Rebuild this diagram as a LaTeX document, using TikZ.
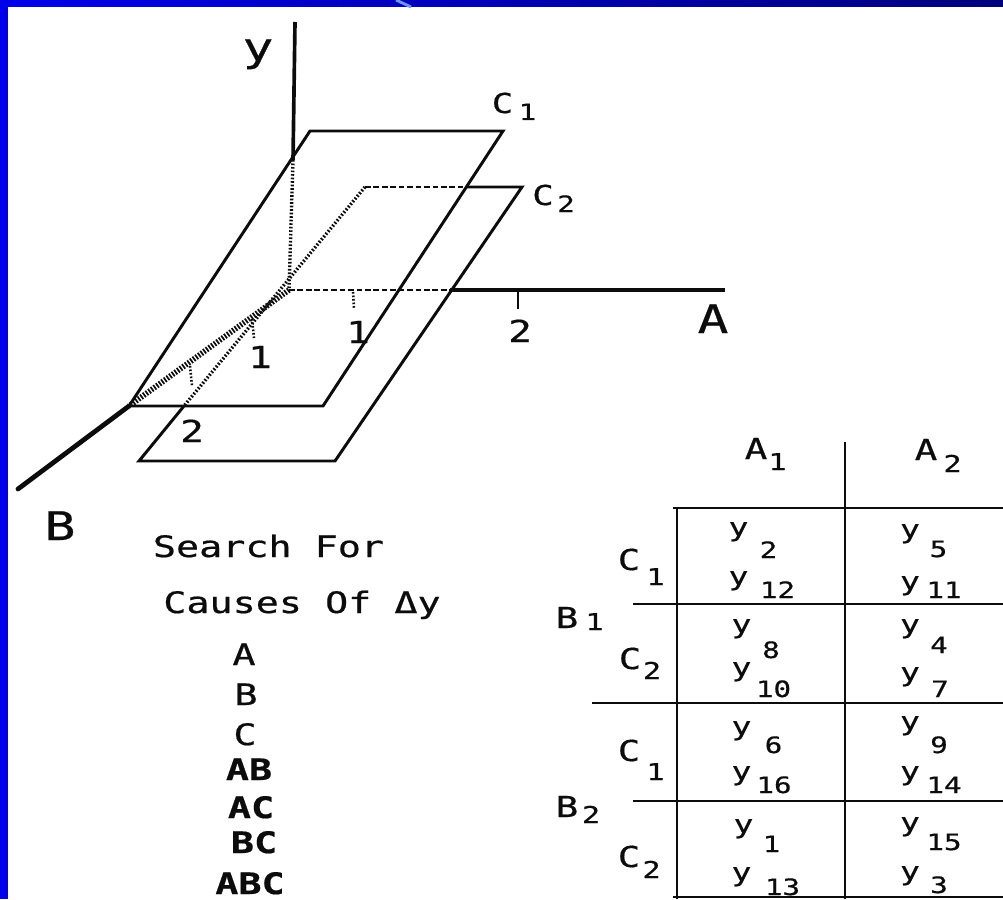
\documentclass[tikz,border=0pt]{standalone}
\usepackage{fontspec}
\newfontfamily\plotfont[FakeStretch=1.3, FakeBold=0.6]{DejaVu Sans Mono}
\usepackage{xcolor}
\definecolor{slideBlue}{RGB}{0, 0, 235}
\definecolor{slideNavy}{RGB}{0, 0, 125}
\definecolor{slideGlint}{RGB}{110, 150, 255}
\definecolor{inkBlack}{RGB}{12, 12, 12}
\usepackage{tikz}
\usetikzlibrary{calc}

\begin{document}
\begin{tikzpicture}[
    x=0.025cm, y=-0.025cm,
    planeEdge/.style={
        draw=inkBlack, line width=2.1pt, line join=miter
    },
    axisLine/.style={
        draw=inkBlack, line width=2.6pt
    },
    hiddenDash/.style={
        draw=inkBlack, line width=2pt, dash pattern=on 4pt off 2pt
    },
    hiddenDot/.style={
        draw=inkBlack, line width=2.4pt, dash pattern=on 1.2pt off 1.3pt
    },
    hiddenHatch/.style={
        draw=inkBlack, line width=4pt, dash pattern=on 1.2pt off 1.1pt
    },
    tableRule/.style={
        draw=inkBlack, line width=1.9pt
    },
    plotText/.style={
        inner sep=0pt, anchor=base, text=inkBlack
    },
    axisLabel/.style={
        plotText, font={\plotfont\fontsize{28}{30}\selectfont}
    },
    tickLabel/.style={
        plotText, font={\plotfont\fontsize{21.5}{23}\selectfont}
    },
    planeLabel/.style={
        plotText, font={\plotfont\fontsize{19.5}{21}\selectfont}
    },
    planeSub/.style={
        plotText, font={\plotfont\fontsize{16}{18}\selectfont}
    },
    listText/.style={
        plotText, font={\plotfont\fontsize{21}{23}\selectfont}
    },
    listBold/.style={
        plotText, font={\plotfont\bfseries\fontsize{21}{23}\selectfont}
    },
    headLabel/.style={
        plotText, font={\plotfont\fontsize{20.5}{22}\selectfont}
    },
    headSub/.style={
        plotText, font={\plotfont\fontsize{16.5}{18}\selectfont}
    },
    cellY/.style={
        plotText, font={\plotfont\fontsize{18}{20}\selectfont}
    },
    cellSub/.style={
        plotText, font={\plotfont\fontsize{16}{18}\selectfont}
    }
]
    \useasboundingbox (0,0) rectangle (1003,899);

    % Slide frame
    \fill[slideBlue] (0,0) rectangle (8,899);
    \shade[left color=slideBlue, right color=slideNavy] (0,0) rectangle (1003,7);
    \draw[slideGlint, line width=2pt] (396,0) -- (411,7);

    % Axes and planes
    \coordinate (origin) at (289,290);
    \coordinate (yTop) at (295,22);
    \coordinate (yHit) at (293,160);
    \coordinate (aHit) at (450,290);
    \coordinate (aEnd) at (725,290);
    \coordinate (bEnd) at (18,489);
    \coordinate (c1TL) at (310,131);
    \coordinate (c1TR) at (503,131);
    \coordinate (c1BR) at (323,406);
    \coordinate (c1BL) at (129,406);
    \coordinate (c2TL) at (365,187);
    \coordinate (c2TR) at (522,187);
    \coordinate (c2BR) at (335,461);
    \coordinate (c2BL) at (139,461);
    \coordinate (c2Hit) at (466,187);
    \coordinate (c2Low) at (184,406);

    \draw[hiddenDot] (yHit) -- (origin);
    \draw[hiddenHatch] (origin) -- (c1BL);
    \draw[hiddenDash] (origin) -- (aHit);
    \draw[hiddenDash] (c2TL) -- (c2Hit);
    \draw[hiddenDot] (c2TL) -- (c2Low);

    \draw[planeEdge] (c1BL) -- (c1TL) -- (c1TR) -- (c1BR) -- cycle;
    \draw[planeEdge] (c2Hit) -- (c2TR) -- (c2BR) -- (c2BL) -- (c2Low);

    \draw[axisLine] (yTop) -- (yHit);
    \draw[axisLine, line width=2.8pt] (aHit) -- (aEnd);
    \draw[axisLine, line width=3.4pt, line cap=round] (c1BL) -- (bEnd);

    % Ticks
    \draw[axisLine, line width=1.8pt] (518,290) -- (518,309);
    \draw[hiddenDot, line width=1.8pt] (353,292) -- (354,308);
    \draw[hiddenDot, line width=1.8pt] (252,319) -- (254,338);
    \draw[hiddenDot, line width=1.8pt] (190,366) -- (192,386);

    \node[axisLabel] (yLabel) at (258,61) {y};
    \node[axisLabel] (aLabel) at (713,333) {A};
    \node[axisLabel] (bLabel) at (60,540) {B};

    \node[tickLabel] (aOne) at (358,343) {1};
    \node[tickLabel] (aTwo) at (520,342) {2};
    \node[tickLabel] (bOne) at (260,368) {1};
    \node[tickLabel] (bTwo) at (192,442) {2};

    \node[planeLabel] (cOne) at (502.5,113) {C};
    \node[planeSub] (cOneSub) at (527.5,120) {1};
    \node[planeLabel] (cTwo) at (543,205) {C};
    \node[planeSub] (cTwoSub) at (566,212) {2};

    % Effects list
    \node[listText] (search) at (268.5,557) {Search For};
    \node[listText] (causes) at (302,613) {Causes Of Δy};
    \node[listText] (effA) at (244,665) {A};
    \node[listText] (effB) at (246,705) {B};
    \node[listText] (effC) at (245,745) {C};
    \node[listBold] (effAB) at (249,780) {AB};
    \node[listBold] (effAC) at (251,818) {AC};
    \node[listBold] (effBC) at (254,853) {BC};
    \node[listBold] (effABC) at (250,894) {ABC};

    % Table rules
    \draw[tableRule] (677,508) -- (677,899);
    \draw[tableRule] (845,442) -- (845,899);
    \draw[tableRule] (673,508) -- (1003,508);
    \draw[tableRule] (633,604) -- (1003,604);
    \draw[tableRule] (592,703) -- (1003,703);
    \draw[tableRule] (633,801) -- (1003,801);
    \draw[tableRule] (673,897) -- (1003,897);

    % Table headings
    \node[headLabel] (aOneHead) at (756,459) {A};
    \node[headSub] (aOneHeadSub) at (777.5,470) {1};
    \node[headLabel] (aTwoHead) at (926,460) {A};
    \node[headSub] (aTwoHeadSub) at (952.5,472) {2};

    \node[headLabel] (bOneHead) at (567,628) {B};
    \node[headSub] (bOneHeadSub) at (594.5,630) {1};
    \node[headLabel] (bTwoHead) at (567,817) {B};
    \node[headSub] (bTwoHeadSub) at (591,823) {2};

    \node[headLabel] (cOneTop) at (629,570) {C};
    \node[headSub] (cOneTopSub) at (655.5,585) {1};
    \node[headLabel] (cTwoTop) at (630,669) {C};
    \node[headSub] (cTwoTopSub) at (652,679) {2};
    \node[headLabel] (cOneLow) at (629,761) {C};
    \node[headSub] (cOneLowSub) at (655.5,780) {1};
    \node[headLabel] (cTwoLow) at (629,867) {C};
    \node[headSub] (cTwoLowSub) at (651.5,878) {2};

    % Cell entries, A1 column
    \node[cellY] (y2) at (738.5,536) {y};
    \node[cellSub] (s2) at (768.5,558) {2};
    \node[cellY] (y12) at (738.5,585) {y};
    \node[cellSub] (s12) at (777.5,598) {12};
    \node[cellY] (y8) at (741.5,633) {y};
    \node[cellSub] (s8) at (771,658) {8};
    \node[cellY] (y10) at (741.5,676) {y};
    \node[cellSub] (s10) at (773.5,697) {10};
    \node[cellY] (y6) at (741.5,735) {y};
    \node[cellSub] (s6) at (773.5,753) {6};
    \node[cellY] (y16) at (741.5,780) {y};
    \node[cellSub] (s16) at (774,793) {16};
    \node[cellY] (y1) at (743.5,833) {y};
    \node[cellSub] (s1) at (771.5,852) {1};
    \node[cellY] (y13) at (741.5,881) {y};
    \node[cellSub] (s13) at (782.5,895) {13};

    % Cell entries, A2 column
    \node[cellY] (y5) at (910,538) {y};
    \node[cellSub] (s5) at (938.5,557) {5};
    \node[cellY] (y11) at (910,590) {y};
    \node[cellSub] (s11) at (944,598) {11};
    \node[cellY] (y4) at (910,633) {y};
    \node[cellSub] (s4) at (939,653) {4};
    \node[cellY] (y7) at (910,681) {y};
    \node[cellSub] (s7) at (940,697) {7};
    \node[cellY] (y9) at (910,730) {y};
    \node[cellSub] (s9) at (939,753) {9};
    \node[cellY] (y14) at (910,780) {y};
    \node[cellSub] (s14) at (944,793) {14};
    \node[cellY] (y15) at (910,831) {y};
    \node[cellSub] (s15) at (944,850) {15};
    \node[cellY] (y3) at (910,880) {y};
    \node[cellSub] (s3) at (939,893) {3};

\end{tikzpicture}
\end{document}
